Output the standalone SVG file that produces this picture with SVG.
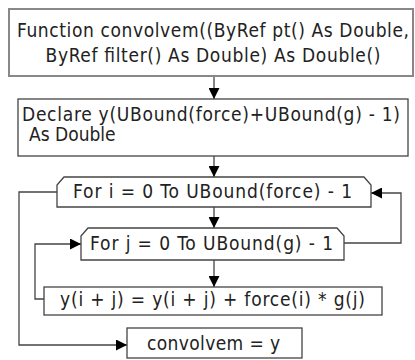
<svg xmlns="http://www.w3.org/2000/svg" width="415" height="360" viewBox="0 0 415 360">
<defs>
<style>
.t{font-family:"DejaVu Sans Condensed","DejaVu Sans","Verdana",sans-serif;font-size:19px;fill:#222}
.b{fill:#fff;stroke:#444;stroke-width:1.3}
.c{fill:none;stroke:#444;stroke-width:1.3}
</style>
<marker id="ah" markerWidth="11" markerHeight="11" refX="11" refY="5.5" orient="auto" markerUnits="userSpaceOnUse">
<path d="M0,0 L11,5.5 L0,11 Z" fill="#000"/>
</marker>
</defs>
<rect width="415" height="360" fill="#fff"/>
<g id="connectors">
<line class="c" x1="214" y1="76" x2="214" y2="99" marker-end="url(#ah)"/>
<line class="c" x1="214" y1="156" x2="214" y2="177" marker-end="url(#ah)"/>
<line class="c" x1="214" y1="207" x2="214" y2="228" marker-end="url(#ah)"/>
<line class="c" x1="214" y1="260" x2="214" y2="287" marker-end="url(#ah)"/>
<polyline class="c" points="57,192 19,192 19,345 127,345" marker-end="url(#ah)"/>
<polyline class="c" points="344,243 401,243 401,193 371,193" marker-end="url(#ah)"/>
<polyline class="c" points="44,299 35,299 35,244 81,244" marker-end="url(#ah)"/>
</g>
<g id="func">
<rect x="9" y="9" width="404" height="67" fill="#fff" stroke="#888" stroke-width="2"/>
<text class="t" x="213" y="37" text-anchor="middle" textLength="392">Function convolvem((ByRef pt() As Double,</text>
<text class="t" x="213" y="62" text-anchor="middle" textLength="335">ByRef filter() As Double) As Double()</text>
</g>
<g id="declare">
<rect class="b" x="18" y="99" width="390" height="57"/>
<text class="t" x="22" y="121" textLength="378">Declare y(UBound(force)+UBound(g) - 1)</text>
<text class="t" x="29" y="141">As Double</text>
</g>
<g id="fori">
<path class="b" d="M57,207 L57,185 L64,177 L364,177 L371,185 L371,207 Z"/>
<text class="t" x="73" y="198" textLength="279">For i = 0 To UBound(force) - 1</text>
</g>
<g id="forj">
<path class="b" d="M81,260 L81,236 L88,228 L337,228 L344,236 L344,260 Z"/>
<text class="t" x="90" y="250" textLength="243">For j = 0 To UBound(g) - 1</text>
</g>
<g id="assign">
<rect class="b" x="44" y="287" width="338" height="28"/>
<text class="t" x="60" y="306" textLength="305">y(i + j) = y(i + j) + force(i) * g(j)</text>
</g>
<g id="ret">
<rect class="b" x="127" y="328" width="175" height="30"/>
<text class="t" x="147" y="350" textLength="133">convolvem = y</text>
</g>
</svg>
